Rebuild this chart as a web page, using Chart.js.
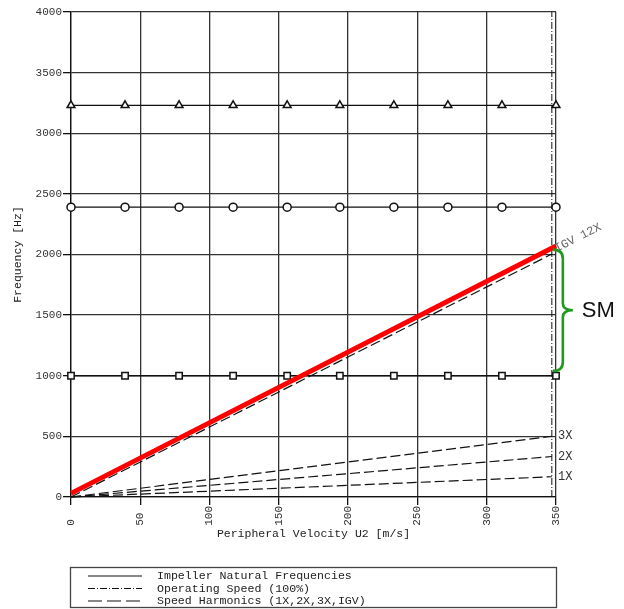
<!DOCTYPE html>
<html>
<head>
<meta charset="utf-8">
<script src="https://cdn.jsdelivr.net/npm/chart.js@4/dist/chart.umd.min.js"></script>
<style>
  html, body { margin: 0; padding: 0; background: #fff; }
  canvas { display: block; }
</style>
</head>
<body>
<canvas id="campbell" width="624" height="609"></canvas>
<script>
// peripheral velocity positions where the impeller modes are marked
const velocityPoints = [0, 39, 78, 117, 156, 194, 233, 272, 311, 350];
// impeller natural frequencies [Hz]
const naturalFreqs = [3230, 2390, 1000];
const naturalMarkers = ['triangle', 'circle', 'rect'];
// operating speed (100%) U2 [m/s]
const operatingU2 = 347;
// speed harmonics: frequency reached at operating speed [Hz]
const harmonicNames = ['1X', '2X', '3X', 'IGV 12X'];
const harmonicEnds = [167, 334, 501, 2004];
// highlighted IGV excitation line (red)
const redLineU2 = [0, 350];
const redLineHz = [30, 2070];
// separation margin bracket [Hz]
const smRange = [2040, 1040];
const smLabel = 'SM';
// axis ticks / titles / legend
const xTickStep = 50, xMax = 350;
const yTickStep = 500, yMax = 4000;
const xTitle = 'Peripheral Velocity U2 [m/s]';
const yTitle = 'Frequency [Hz]';
const legendLabels = ['Impeller Natural Frequencies', 'Operating Speed (100%)', 'Speed Harmonics (1X,2X,3X,IGV)'];

const mono = 'Liberation Mono, Courier New, monospace';
const dashHarm = [10, 4];
const dashOp = [7, 2, 1, 2];

const datasets = [];

datasets.push({
    label: 'red',
    data: redLineU2.map((x, i) => ({ x: x, y: redLineHz[i] })),
    borderColor: '#ff0000',
    borderWidth: 4.8,
    pointRadius: 0,
    order: 0,
});

naturalFreqs.forEach((f, i) => {
    datasets.push({
        label: legendLabels[0],
        data: velocityPoints.map(x => ({ x: x, y: f })),
        borderColor: '#111',
        borderWidth: 1.3,
        pointStyle: naturalMarkers[i],
        pointRadius: naturalMarkers[i] === 'circle' ? 4 : 4.5,
        pointBorderColor: '#111',
        pointBorderWidth: 1.5,
        pointBackgroundColor: '#fff',
        order: 2,
    });
});

datasets.push({
    label: legendLabels[1],
    data: [{ x: operatingU2, y: 0 }, { x: operatingU2, y: yMax }],
    borderColor: '#111',
    borderWidth: 1,
    borderDash: dashOp,
    pointRadius: 0,
    order: 3,
});

harmonicEnds.forEach((f, i) => {
    datasets.push({
        label: harmonicNames[i],
        data: [{ x: 0, y: 0 }, { x: operatingU2, y: f }],
        borderColor: '#111',
        borderWidth: 1.2,
        borderDash: dashHarm,
        pointRadius: 0,
        order: 1,
    });
});

const annotations = {
    id: 'annotations',
    afterDatasetsDraw(chart) {
        const ctx = chart.ctx;
        const xs = chart.scales.x, ys = chart.scales.y;
        const area = chart.chartArea;
        ctx.save();

        // harmonic labels
        ctx.font = '12px ' + mono;
        ctx.fillStyle = '#333';
        ctx.textBaseline = 'middle';
        harmonicNames.forEach((name, i) => {
            const px = xs.getPixelForValue(operatingU2);
            const py = ys.getPixelForValue(harmonicEnds[i]);
            if (name.indexOf('IGV') === 0) {
                const ang = Math.atan2(ys.getPixelForValue(harmonicEnds[i]) - ys.getPixelForValue(0),
                    px - xs.getPixelForValue(0));
                ctx.save();
                ctx.translate(px + 5, py - 2);
                ctx.rotate(ang);
                ctx.fillStyle = '#666';
                ctx.textBaseline = 'alphabetic';
                ctx.fillText(name, 0, 0);
                ctx.restore();
            } else {
                ctx.fillText(name, area.right + 2, py);
            }
        });

        // SM bracket
        const top = ys.getPixelForValue(smRange[0]);
        const bot = ys.getPixelForValue(smRange[1]);
        const mid = (top + bot) / 2;
        const x0 = xs.getPixelForValue(operatingU2) + 1;
        const x1 = x0 + 10;
        const tip = x1 + 10;
        ctx.strokeStyle = '#1e9b1e';
        ctx.lineWidth = 2.6;
        ctx.beginPath();
        ctx.moveTo(x0, top);
        ctx.quadraticCurveTo(x1, top, x1, top + 9);
        ctx.lineTo(x1, mid - 7);
        ctx.quadraticCurveTo(x1, mid, tip, mid);
        ctx.quadraticCurveTo(x1, mid, x1, mid + 7);
        ctx.lineTo(x1, bot - 9);
        ctx.quadraticCurveTo(x1, bot, x0, bot);
        ctx.stroke();
        ctx.fillStyle = '#111';
        ctx.font = '22px Liberation Sans, Arial, sans-serif';
        ctx.textBaseline = 'middle';
        ctx.fillText(smLabel, tip + 9, mid + 1);

        // legend box
        const bx0 = area.left - 0.5, bx1 = area.right + 0.5;
        const by0 = chart.height - 41.5, by1 = chart.height - 1.5;
        ctx.strokeStyle = '#444';
        ctx.lineWidth = 1.3;
        ctx.setLineDash([]);
        ctx.strokeRect(bx0, by0, bx1 - bx0, by1 - by0);
        const dashes = [[], dashOp, [14, 5]];
        ctx.font = '11.6px ' + mono;
        ctx.fillStyle = '#222';
        legendLabels.forEach((lab, i) => {
            const ly = by0 + 8.5 + i * 12.5;
            ctx.beginPath();
            ctx.setLineDash(dashes[i]);
            ctx.strokeStyle = '#111';
            ctx.lineWidth = 1.2;
            ctx.moveTo(area.left + 17, ly);
            ctx.lineTo(area.left + 71, ly);
            ctx.stroke();
            ctx.fillText(lab, area.left + 86, ly);
        });
        ctx.restore();
    }
};

new Chart(document.getElementById('campbell'), {
    type: 'line',
    data: { datasets: datasets },
    options: {
        responsive: false,
        animation: false,
        layout: { padding: { left: 8, right: 68, top: 12, bottom: 64 } },
        elements: { line: { tension: 0 } },
        datasets: { line: { clip: false } },
        plugins: { legend: { display: false }, tooltip: { enabled: false } },
        scales: {
            x: {
                type: 'linear',
                min: 0,
                max: xMax,
                afterFit: s => { s.height = 48; },
                border: { color: '#111', width: 1.3 },
                grid: { color: '#333', lineWidth: 1.3, tickLength: 8, tickColor: '#111' },
                ticks: {
                    stepSize: xTickStep,
                    minRotation: 90,
                    maxRotation: 90,
                    padding: 1,
                    color: '#333',
                    font: { family: mono, size: 11 },
                    callback: v => String(v).padEnd(3, ' '),
                },
                title: {
                    display: true,
                    text: xTitle,
                    color: '#222',
                    font: { family: mono, size: 11.5 },
                    padding: { top: 0, bottom: 4 },
                },
            },
            y: {
                min: 0,
                max: yMax,
                afterFit: s => { s.width = 63; },
                border: { color: '#111', width: 1.3 },
                grid: { color: '#333', lineWidth: 1.3, tickLength: 8, tickColor: '#111' },
                ticks: {
                    stepSize: yTickStep,
                    padding: 1,
                    color: '#333',
                    font: { family: mono, size: 11 },
                    callback: v => String(v),
                },
                title: {
                    display: true,
                    text: yTitle,
                    color: '#222',
                    font: { family: mono, size: 11.5 },
                    padding: { top: 3, bottom: 0 },
                },
            },
        },
    },
    plugins: [annotations],
});
</script>
</body>
</html>
